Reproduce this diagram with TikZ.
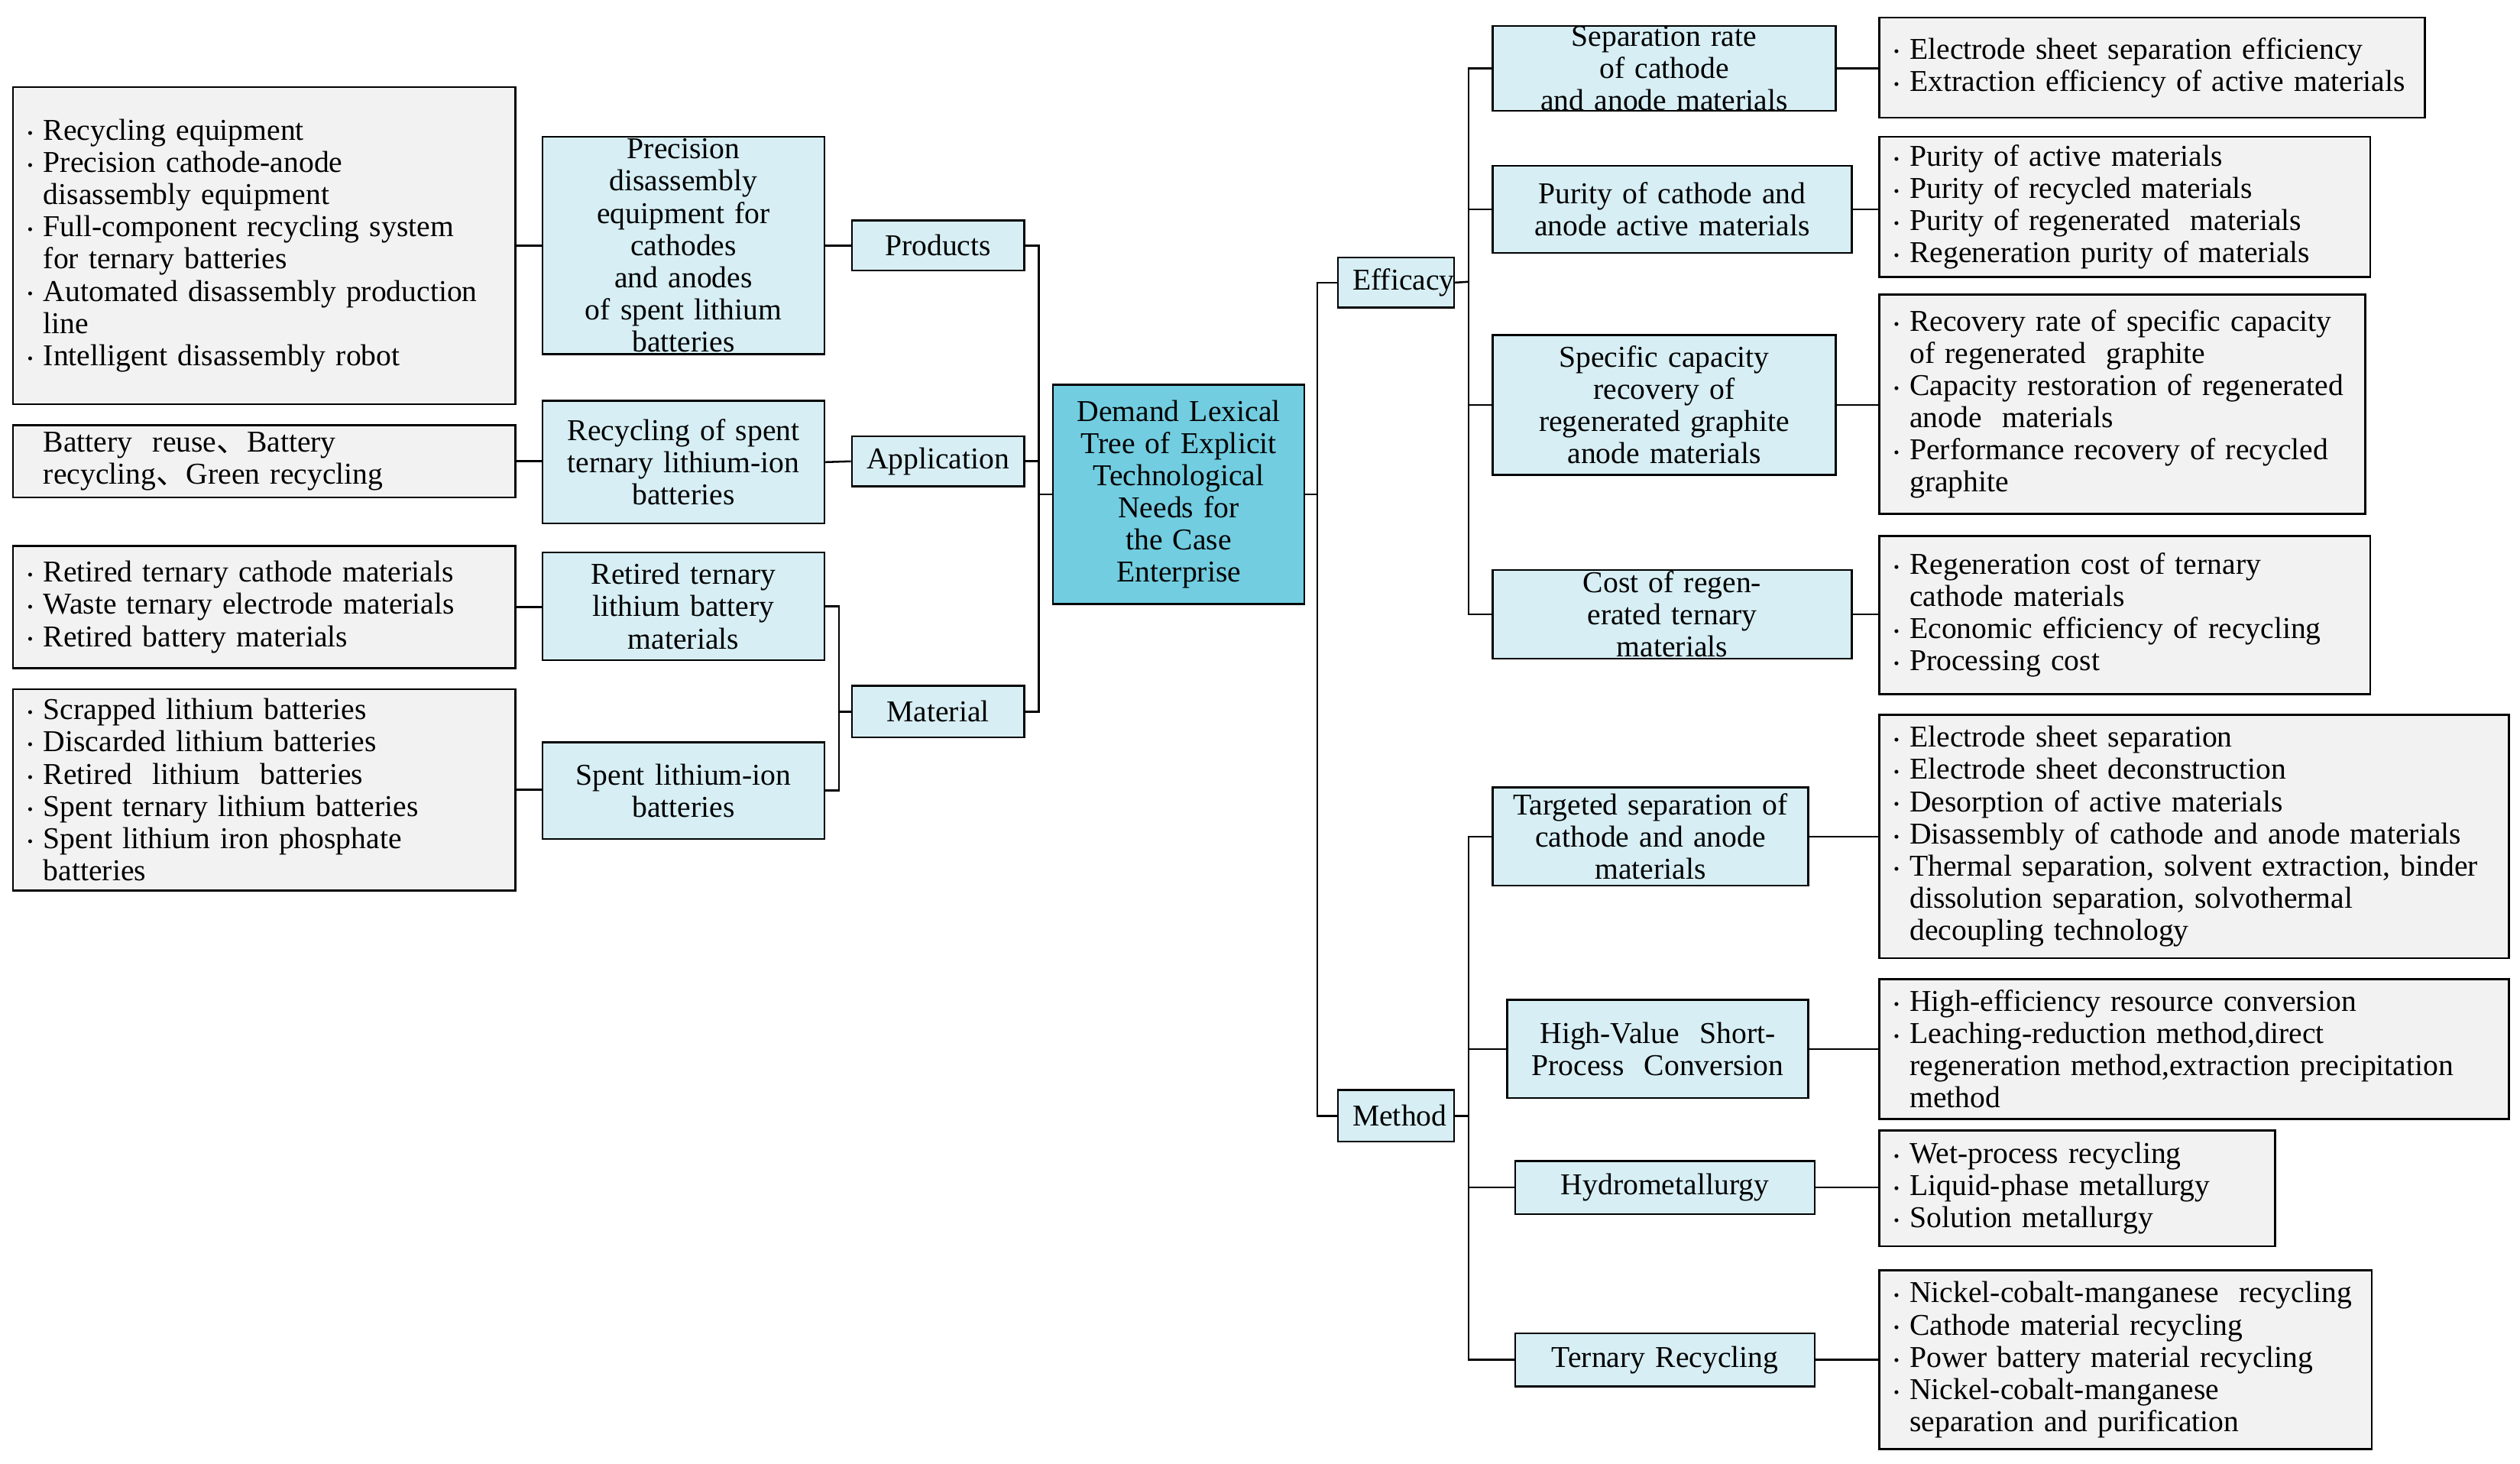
\documentclass[tikz,border=0pt]{standalone}
\usepackage{fontspec}
\setmainfont{Liberation Serif}
\newfontfamily\cjk{Noto Sans CJK SC}
\newcommand\bl{\makebox[5pt][l]{\raisebox{0.5pt}{\tiny\textbullet}}}
\newcommand\ct{\hspace*{5pt}}
\newcommand\dn{{\cjk 、}}
\definecolor{rootc}{HTML}{72CDE0}
\definecolor{lc}{HTML}{D6EEF4}
\definecolor{gc}{HTML}{F2F2F2}
\tikzset{
 base/.style={draw=black,line width=0.6pt,inner xsep=4pt,inner ysep=0pt,font=\fontsize{9.4}{10}\selectfont},
 root/.style={base,fill=rootc,align=center},
 cat/.style={base,fill=lc,align=center},
 leaf/.style={base,fill=gc,align=left},
 con/.style={line width=0.6pt}
}
\newcommand\bx[7]{%
 \pgfmathsetmacro\bw{(#4-#2)*0.5}\pgfmathsetmacro\bh{(#5-#3)*0.5}\pgfmathsetmacro\tw{(#4-#2)*0.5-9}%
 \node[#6,minimum width=\bw pt,minimum height=\bh pt,text width=\tw pt] (#1) at ({(#2+#4)/2},{(#3+#5)/2}) {#7};}
\begin{document}
\begin{tikzpicture}[x=0.5pt,y=-0.5pt]
\useasboundingbox[fill=white] (0,0) rectangle (1565,909);
\bx{root}{654}{239}{810}{375}{root}{Demand Lexical\\Tree of Explicit\\Technological\\Needs for the Case\\Enterprise}
\bx{prod}{529}{137}{636}{168}{cat}{Products}
\bx{app}{529}{271}{636}{302}{cat}{Application}
\bx{mat}{529}{426}{636}{458}{cat}{Material}
\bx{p1}{337}{85}{512}{220}{cat}{Precision\\disassembly\\equipment for\\cathodes and anodes\\of spent lithium\\batteries}
\bx{a1}{337}{249}{512}{325}{cat}{Recycling of spent\\ternary lithium-ion\\batteries}
\bx{m1}{337}{343}{512}{410}{cat}{Retired ternary\\lithium battery\\materials}
\bx{m2}{337}{461}{512}{521}{cat}{Spent lithium-ion\\batteries}
\bx{l1}{8}{54}{320}{251}{leaf}{\bl Recycling equipment\\\bl Precision cathode-anode\\\ct disassembly equipment\\\bl Full-component recycling system\\\ct for ternary batteries\\\bl Automated disassembly production\\\ct line\\\bl Intelligent disassembly robot}
\bx{l2}{8}{264}{320}{309}{leaf}{\ct Battery\ \ reuse\dn Battery\\\ct recycling\dn Green recycling}
\bx{l3}{8}{339}{320}{415}{leaf}{\bl Retired ternary cathode materials\\\bl Waste ternary electrode materials\\\bl Retired battery materials}
\bx{l4}{8}{428}{320}{553}{leaf}{\bl Scrapped lithium batteries\\\bl Discarded lithium batteries\\\bl Retired\ \ lithium\ \ batteries\\\bl Spent ternary lithium batteries\\\bl Spent lithium iron phosphate\\\ct batteries}
\bx{eff}{831}{160}{903}{191}{cat}{Efficacy}
\bx{meth}{831}{677}{903}{709}{cat}{Method}
\bx{e1}{927}{18}{1140}{67}{cat}{Separation rate of cathode\\and anode materials}
\bx{e2}{927}{103}{1150}{157}{cat}{Purity of cathode and\\anode active materials}
\bx{e3}{927}{208}{1140}{295}{cat}{Specific capacity\\recovery of\\regenerated graphite\\anode materials}
\bx{e4}{927}{354}{1150}{409}{cat}{Cost of regenerated ternary\\materials}
\bx{r1}{1167}{11}{1506}{73}{leaf}{\bl Electrode sheet separation efficiency\\\bl Extraction efficiency of active materials}
\bx{r2}{1167}{85}{1472}{172}{leaf}{\bl Purity of active materials\\\bl Purity of recycled materials\\\bl Purity of regenerated\ \ materials\\\bl Regeneration purity of materials}
\bx{r3}{1167}{183}{1469}{319}{leaf}{\bl Recovery rate of specific capacity\\\ct of regenerated\ \ graphite\\\bl Capacity restoration of regenerated\\\ct anode\ \ materials\\\bl Performance recovery of recycled\\\ct graphite}
\bx{r4}{1167}{333}{1472}{431}{leaf}{\bl Regeneration cost of ternary\\\ct cathode materials\\\bl Economic efficiency of recycling\\\bl Processing cost}
\bx{t1}{927}{489}{1123}{550}{cat}{Targeted separation of\\cathode and anode\\materials}
\bx{t2}{936}{621}{1123}{682}{cat}{High-Value\ \ Short-\\Process\ \ Conversion}
\bx{t3}{941}{721}{1127}{754}{cat}{Hydrometallurgy}
\bx{t4}{941}{828}{1127}{861}{cat}{Ternary Recycling}
\bx{s1}{1167}{444}{1558}{595}{leaf}{\bl Electrode sheet separation\\\bl Electrode sheet deconstruction\\\bl Desorption of active materials\\\bl Disassembly of cathode and anode materials\\\bl Thermal separation, solvent extraction, binder\\\ct dissolution separation, solvothermal\\\ct decoupling technology}
\bx{s2}{1167}{608}{1558}{695}{leaf}{\bl High-efficiency resource conversion\\\bl Leaching-reduction method,direct\\\ct regeneration method,extraction precipitation\\\ct method}
\bx{s3}{1167}{702}{1413}{774}{leaf}{\bl Wet-process recycling\\\bl Liquid-phase metallurgy\\\bl Solution metallurgy}
\bx{s4}{1167}{789}{1473}{900}{leaf}{\bl Nickel-cobalt-manganese\ \ recycling\\\bl Cathode material recycling\\\bl Power battery material recycling\\\bl Nickel-cobalt-manganese\\\ct separation and purification}
% connectors
\draw[con] (root.west) -- (645,307) coordinate (jl);
\foreach \n in {prod,app,mat} \draw[con] (jl) |- (\n.east);
\draw[con] (mat.west) -- (521,442) coordinate (jm);
\foreach \n in {m1,m2} \draw[con] (jm) |- (\n.east);
\draw[con] (p1.east) -- (prod.west);
\draw[con] (a1.east) -- (app.west);
\draw[con] (l1.east) -- (p1.west |- l1.east);
\draw[con] (l2.east) -- (a1.west |- l2.east);
\draw[con] (l3.east) -- (m1.west |- l3.east);
\draw[con] (l4.east) -- (m2.west |- l4.east);
\draw[con] (root.east) -- (818,307) coordinate (jr);
\foreach \n in {eff,meth} \draw[con] (jr) |- (\n.west);
\draw[con] (eff.east) -- (912,175) coordinate (je);
\foreach \n in {e1,e2,e3,e4} \draw[con] (je) |- (\n.west);
\draw[con] (meth.east) -- (912,693) coordinate (jt);
\foreach \n in {t1,t2,t3,t4} \draw[con] (jt) |- (\n.west);
\draw[con] (e1.east) -- (r1.west |- e1.east);
\draw[con] (e2.east) -- (r2.west |- e2.east);
\draw[con] (e3.east) -- (r3.west |- e3.east);
\draw[con] (e4.east) -- (r4.west |- e4.east);
\draw[con] (t1.east) -- (s1.west |- t1.east);
\draw[con] (t2.east) -- (s2.west |- t2.east);
\draw[con] (t3.east) -- (s3.west |- t3.east);
\draw[con] (t4.east) -- (s4.west |- t4.east);
\end{tikzpicture}
\end{document}
